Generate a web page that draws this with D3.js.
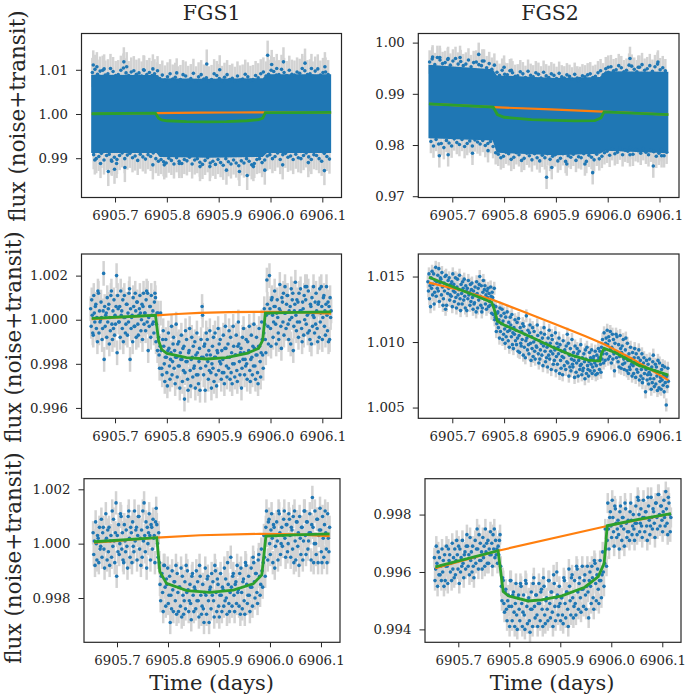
<!DOCTYPE html>
<html>
<head>
<meta charset="utf-8">
<script src="https://cdn.jsdelivr.net/npm/d3@7"></script>
<style>
  body { margin: 0; background: #fff; }
  text { font-family: "DejaVu Serif", serif; fill: #262626; }
</style>
</head>
<body>
<svg id="chart" width="685" height="697"></svg>
<script>
// time is days after 6905
const xTicks = [0.7, 0.8, 0.9, 1.0, 1.1];
const xTickLabels = ['6905.7', '6905.8', '6905.9', '6906.0', '6906.1'];

// model curves, [time, flux]
const trendFgs1 = [[.655,1.00003],[.70,1.00009],[.74,1.00015],[.78,1.0002],[.82,1.00026],[.863,1.00031],[.92,1.00034],[.98,1.00036],[1.05,1.00034],[1.117,1.00028]];
const modelFgs1 = [[.655,1.00006],[.778,1.0002],[.784,.99905],[.79,.99865],[.80,.99847],[.838,.99828],[.877,.99822],[.915,.99828],[.954,.99847],[.977,.9987],[.985,.99908],[.99,1.0003],[1.05,1.00033],[1.117,1.00036]];
const trendFgs2Top = [[.655,.98804],[.779,.98739],[.89,.98695],[.991,.98654],[1.117,.98595]];
const modelFgs2Top = [[.655,.98804],[.779,.98739],[.787,.98595],[.80,.98542],[.853,.98497],[.937,.98471],[.975,.98477],[.987,.98529],[.993,.98647],[1.117,.98595]];
const trendMid2 = [[.655,1.01454],[.718,1.01393],[.779,1.01321],[.834,1.01237],[.898,1.01138],[.956,1.01046],[.9945,1.00982],[1.046,1.00875],[1.117,1.00709]];
const modelMid2 = [[.655,1.01495],[.776,1.01304],[.781,1.0125],[.787,1.0116],[.80,1.0113],[.8145,1.01105],[.853,1.01036],[.892,1.00964],[.93,1.009],[.962,1.00862],[.985,1.00855],[.988,1.00913],[.993,1.00952],[1.014,1.0092],[1.059,1.00824],[1.117,1.00747]];
const trendBot1 = [[.655,1.00004],[.70,1.0001],[.778,1.00022],[.863,1.00031],[.98,1.00036],[1.05,1.00034],[1.117,1.00028]];
const modelBot1 = [[.655,1.00007],[.778,1.00022],[.784,.99897],[.797,.99854],[.837,.99827],[.882,.99821],[.928,.99829],[.967,.99852],[.984,.99885],[.992,1.00028],[1.05,1.00032],[1.117,1.00036]];
const trendBot2 = [[.655,.99613],[.778,.99674],[.994,.99761],[1.117,.99803]];
const modelBot2 = [[.655,.99618],[.778,.99674],[.788,.99532],[.798,.99517],[.837,.99499],[.863,.99503],[.903,.99517],[.948,.99547],[.9745,.99584],[.986,.9963],[.992,.99761],[1.053,.99783],[1.117,.99803]];

// top row is too dense to see single samples: solid core [time, low, high]
const coreFgs1 = [[.654,.9912,1.0089],[.78,.9912,1.0088],[.786,.9903,1.0081],[.88,.9901,1.008],[.985,.9903,1.0081],[.993,.9912,1.009],[1.117,.9912,1.009]];
const coreFgs2 = [[.654,.9813,.9957],[.778,.9809,.9948],[.786,.9785,.9936],[.90,.978,.9931],[.985,.9783,.9933],[.995,.9789,.9944],[1.117,.9784,.9943]];

// samples along the edge of the core, [time, flux, ...]
const edgeFgs1 = [
[.66,1.0094,.9908,1.0101,.9899],[.67,1.009,.9904,1.0097,.9911],[.68,1.0099,.9896,1.0088,.9906],[.69,1.0091,.9909,1.0103,.9893],[.70,1.0096,.9902,1.0087,.9897],
[.71,1.0089,.9906,1.0099,.9912],[.72,1.0104,.9899,1.0093,.9907],[.73,1.0087,.9911,1.0095,.9901],[.74,1.0098,.9905,1.009,.9895],[.75,1.0093,.9909,1.0086,.9903],
[.76,1.0099,.9898,1.0089,.9908],[.77,1.0094,.9904,1.0087,.9912],[.78,1.0091,.9899,1.0084,.9893],[.79,1.008,.9897,1.0088,.9892],[.80,1.0077,.9889,1.0084,.99],
[.81,1.0091,.9895,1.0079,.9887],[.82,1.0083,.9901,1.0075,.9893],[.83,1.0078,.9888,1.0089,.9897],[.84,1.0086,.9894,1.0076,.9902],[.85,1.008,.9887,1.0092,.9896],
[.86,1.0075,.9899,1.0084,.9891],[.87,1.0089,.9886,1.0079,.9895],[.88,1.0082,.9901,1.0075,.9889],[.89,1.0078,.9893,1.0091,.9886],[.90,1.0087,.9897,1.008,.989],
[.91,1.0076,.9884,1.0083,.9899],[.92,1.0089,.9892,1.0078,.9887],[.93,1.0081,.9896,1.0074,.9889],[.94,1.0086,.9883,1.0077,.9894],[.95,1.0079,.9889,1.009,.9899],
[.96,1.0084,.9893,1.0076,.9885],[.97,1.0078,.9888,1.0087,.9897],[.98,1.0082,.9899,1.0091,.989],[.99,1.0095,.9896,1.0086,.9905],[1.0,1.009,.9908,1.0099,.9899],
[1.01,1.0096,.9904,1.0088,.9912],[1.02,1.0089,.9897,1.0101,.9908],[1.03,1.0094,.9911,1.0087,.9902],[1.04,1.0099,.9905,1.009,.9897],[1.05,1.0088,.9909,1.0095,.9901],
[1.06,1.0092,.9899,1.0103,.9906],[1.07,1.0098,.9912,1.0089,.9903],[1.08,1.0091,.9897,1.0086,.9908],[1.09,1.0097,.9906,1.0102,.9899],[1.10,1.0088,.9893,1.0094,.9911],
[1.11,1.0095,.9904,1.0089,.9898]];
const edgeFgs2 = [
[.66,.9962,.9807,.9968,.9798],[.67,.9957,.9811,.9971,.9802],[.68,.9966,.9803,.9959,.9795],[.69,.9961,.9809,.9967,.9804],[.70,.9956,.9798,.9964,.9812],
[.71,.9969,.9805,.9958,.9801],[.72,.9963,.9811,.9955,.9797],[.73,.9958,.9803,.9966,.9808],[.74,.9953,.9798,.9961,.981],[.75,.9962,.9806,.9957,.9802],
[.76,.9955,.9809,.9964,.9799],[.77,.9951,.9803,.9959,.9807],[.78,.9948,.9797,.9956,.9785],[.79,.9942,.9782,.9936,.9775],[.80,.9946,.9778,.9938,.9786],
[.81,.9937,.9783,.9945,.9772],[.82,.9941,.9776,.9934,.9785],[.83,.9935,.9781,.9943,.977],[.84,.9939,.9774,.9932,.9784],[.85,.9944,.9779,.9936,.9771],
[.86,.9933,.9783,.9941,.9775],[.87,.9938,.9769,.9931,.978],[.88,.9942,.9775,.9935,.9783],[.89,.9932,.9772,.9939,.9778],[.90,.9936,.9781,.993,.9769],
[.91,.994,.9774,.9933,.9783],[.92,.9931,.9768,.9937,.9779],[.93,.9934,.9776,.9929,.9782],[.94,.9938,.977,.9931,.9777],[.95,.993,.9775,.9935,.9783],
[.96,.9933,.9768,.9937,.978],[.97,.9939,.9776,.9932,.9771],[.98,.9934,.9782,.9941,.9773],[.99,.9945,.9778,.9937,.9785],[1.0,.9949,.9788,.9942,.978],
[1.01,.9953,.9793,.9945,.9783],[1.02,.9947,.9786,.9955,.9794],[1.03,.9951,.9781,.9943,.979],[1.04,.9946,.9788,.9956,.9795],[1.05,.9954,.9782,.9948,.9791],
[1.06,.9943,.9789,.9952,.9784],[1.07,.9957,.9793,.9946,.9786],[1.08,.9949,.9781,.9955,.979],[1.09,.9944,.9787,.9953,.9778],[1.10,.9958,.9784,.9947,.9791],
[1.11,.9951,.9779,.9945,.9786]];

// samples that stand out further, [time, flux]
const strayFgs1 = [[.658,1.0111],[.665,1.0107],[.679,1.0102],[.717,1.0118],[.7225,1.0107],[.755,1.01],[.773,1.0102],[.782,1.0098],[.819,1.0093],[.877,1.0113],[.902,1.01],[.9945,1.0133],[1.0023,1.0112],[1.012,1.0103],[1.025,1.0118],[1.0666,1.0115],[1.079,1.0103],[1.105,1.0107],
[.661,.9896],[.672,.9888],[.687,.987],[.699,.9875],[.719,.9879],[.693,.9896],[.703,.9888],[.773,.9885],[.795,.9885],[.824,.9888],[.864,.9881],[.883,.9881],[.915,.9873],[.94,.987],[.955,.9861],[.967,.9881],[.989,.9873],[1.0235,.9885],[1.073,.989],[1.104,.9872]];
const strayFgs2 = [[.662,.9972],[.676,.9971],[.692,.9969],[.715,.9971],[.751,.9977],[.758,.9964],[.80,.9952],[.814,.9946],[.943,.9926],[1.001,.9952],[1.043,.9969],[1.059,.9952],[1.097,.9962],
[.675,.9779],[.692,.9781],[.739,.9784],[.769,.9789],[.882,.9737],[.892,.9756],[.921,.9763],[.956,.9763],[.971,.9746],[1.043,.9781],[1.088,.9759],[1.104,.9779]];

// samples in cadence order inside each 0.005 day step: [time, flux, flux, ...]
const samplesMid1 = [
[.655,1.0005,.9997,1.0009,1.0002,.9994],[.66,.9993,1.0011,1.0003,.9999,1.0006],[.665,1.0007,.9996,1.0001,.999,1.0013],[.67,1.0012,.9994,1.0004,.9999,1.0],[.675,1.0008,1.0001,.9991,.9996,1.0004],
[.68,1.0021,.9982,1.0006,.9997,1.0002],[.685,1.0003,.9992,1.001,.9999,1.0005],[.69,1.0007,.9989,1.0001,.9995,1.0011],[.695,1.0013,.9998,.9991,1.0004,.9996],[.70,1.0009,.9993,1.0002,.9998,1.0006],
[.705,1.002,.9985,1.0011,1.0005,.9999],[.71,.9999,1.0006,.9992,1.0013,1.0002],[.715,1.0004,.9996,1.0009,.999,1.0001],[.72,1.0011,1.0001,.9994,.9998,1.0007],[.725,1.0007,.9993,1.0003,.9999,1.0012],
[.73,1.0014,.9982,1.0005,.9996,1.0001],[.735,1.0002,.999,1.001,1.0006,.9997],[.74,.9997,1.0012,1.0004,.9992,1.0008],[.745,1.0008,.9998,.9993,1.0002,1.0005],[.75,1.0011,1.0003,.9995,1.0,1.0007],
[.755,.9991,1.0006,1.0012,.9998,1.0003],[.76,1.0003,.9995,1.0009,1.0013,.9999],[.765,1.0012,.9986,1.0001,.9997,1.0006],[.77,1.0006,.9992,1.0011,1.0002,.9998],[.775,1.0004,.9999,.9994,1.0008,1.0012],
[.78,1.001,.999,.9998,1.0003,.9986],[.785,1.0003,.9992,.9984,.9978,.9988],[.79,1.0003,.9986,.9978,.9975,.9991],[.795,.9995,.9988,.998,.9972,.9983],[.80,.9991,.9983,.9976,.997,.9986],
[.805,.9994,.9987,.9979,.9973,.9982],[.81,.9985,.9997,.9975,.9981,.9989],[.815,.9992,.9978,.9986,.9971,.9983],[.82,.9998,.9983,.9974,.9989,.9979],[.825,.999,.9979,.9969,.9985,.9982],
[.83,.9993,.9982,.9972,.9987,.9977],[.835,.9988,.9964,.9976,.9995,.9981],[.84,.9991,.9981,.9973,.9968,.9985],[.845,.9986,.9996,.9977,.997,.9982],[.85,.9992,.9983,.9974,.9988,.9978],
[.855,.9979,.999,.9969,.9984,.9975],[.86,.9994,.9985,.9975,.9971,.9981],[.865,.9987,.9968,.9978,.9991,.9983],[.87,1.0006,1.0002,.9983,.9975,.9988],[.875,.9989,.9968,.9979,.9994,.9984],
[.88,.9991,.9981,.9973,.9986,.9977],[.885,.9995,.9984,.9976,.9969,.998],[.89,.9988,.9978,.9992,.9972,.9983],[.895,.9994,.9983,.9975,.997,.9986],[.90,.9985,.9996,.9977,.9989,.9981],
[.905,.9991,.998,.9973,.9986,.9976],[.91,.9982,.9993,.9976,.9971,.9987],[.915,.9997,.9987,.9979,.9974,.9983],[.92,.9989,.9978,.9995,.9983,.9973],[.925,.9992,.9976,.9985,.9971,.998],
[.93,.9997,.9988,.998,.9974,.9984],[.935,.9984,.9993,.9977,.9972,.9988],[.94,.9999,.9989,.9981,.9975,.9985],[.945,.9987,.9969,.9978,.9992,.9982],[.95,.9996,.9985,.9975,.9982,.9979],
[.955,.9991,.998,.9973,.999,.9985],[.96,.9986,.9997,.9977,.9972,.9982],[.965,.9993,.9983,.9975,.9988,.9979],[.97,.9998,.9987,.9979,.9973,.9984],[.975,.9992,.9984,.9976,.9971,.9988],
[.98,.9996,.9988,.9981,.9974,.9985],[.985,.9999,.9991,.9984,.9978,.9994],[.99,1.0005,.9998,.9991,.9985,1.0002],[.995,1.0018,1.0007,.9997,.9989,1.0003],[1.0,1.002,1.0005,.9996,.9988,1.0009],
[1.005,1.001,1.0002,.9992,.9999,1.0006],[1.01,1.0013,1.0006,.9998,.9989,1.0003],[1.015,1.0009,1.0001,.9994,.9991,1.0005],[1.02,1.0016,1.0004,.9997,.9987,1.001],[1.025,1.0008,.9999,1.0012,.9993,1.0003],
[1.03,1.0015,1.0003,.9996,1.0007,1.0011],[1.035,1.0011,.9998,.9991,1.0004,1.0],[1.04,1.0006,.9989,1.0014,1.0001,1.0009],[1.045,1.0012,.9986,.9997,1.0004,1.0007],[1.05,1.0017,1.0002,.9995,1.0009,.9999],
[1.055,1.0008,.9992,1.0012,.9999,1.0004],[1.06,1.0014,1.0004,.9996,.999,1.0008],[1.065,1.0005,.9993,1.0011,1.0,1.0015],[1.07,1.0009,.9998,1.0015,1.0002,.9994],[1.075,1.0013,1.0003,.9995,.9991,1.0007],
[1.08,1.0006,.9989,1.001,.9997,1.0002],[1.085,1.0015,1.0001,.9994,1.0008,.9998],[1.09,1.0012,1.0004,.9996,.999,1.0007],[1.095,1.0008,.9992,1.0014,.9999,1.0003],[1.10,1.0015,1.0006,.9991,1.0001,1.001],
[1.105,1.0011,.9997,1.0004,.9993,1.0007],[1.11,1.0015,1.0002,.9995,1.0008,.999],[1.115,1.0006,.9991,1.001,1.0001,1.0004]];

const samplesMid2 = [
[.655,1.0146,1.0139,1.0152,1.0133,1.0143],[.66,1.0127,1.0149,1.0141,1.0154,1.0136],[.665,1.0144,1.0152,1.0129,1.0138,1.0147],[.67,1.0157,1.0135,1.0146,1.0141,1.0151],[.675,1.0139,1.0156,1.0131,1.0145,1.0149],
[.68,1.0148,1.0136,1.0153,1.0142,1.0128],[.685,1.0133,1.0145,1.0139,1.015,1.0125],[.69,1.0151,1.0128,1.0143,1.0137,1.0147],[.695,1.0141,1.0149,1.0132,1.0136,1.0144],[.70,1.0135,1.0146,1.0127,1.0152,1.0139],
[.705,1.0144,1.0131,1.0138,1.0149,1.0134],[.71,1.0126,1.0142,1.0148,1.0136,1.0129],[.715,1.014,1.0151,1.0133,1.0124,1.0144],[.72,1.0137,1.0129,1.0146,1.0141,1.0132],[.725,1.0148,1.0135,1.0126,1.0143,1.0139],
[.73,1.0124,1.0141,1.0133,1.0147,1.0136],[.735,1.0138,1.0128,1.0144,1.0131,1.014],[.74,1.0145,1.0134,1.0125,1.0139,1.0129],[.745,1.013,1.0142,1.0136,1.0123,1.0146],[.75,1.0137,1.0126,1.0141,1.0132,1.0144],
[.755,1.015,1.0135,1.0128,1.0143,1.0123],[.76,1.0126,1.0138,1.0147,1.0133,1.014],[.765,1.0143,1.0129,1.0136,1.0125,1.0139],[.77,1.0134,1.0141,1.0127,1.0137,1.0131],[.775,1.0128,1.0142,1.0135,1.0122,1.0138],
[.78,1.0134,1.0121,1.0128,1.0141,1.0117],[.785,1.0119,1.0127,1.0108,1.0114,1.0122],[.79,1.0123,1.0111,1.0117,1.0103,1.0126],[.795,1.0108,1.012,1.0114,1.0125,1.0102],[.80,1.0116,1.0106,1.0122,1.011,1.0099],
[.805,1.0119,1.0104,1.0112,1.0123,1.0108],[.81,1.0101,1.0115,1.0096,1.0109,1.0119],[.815,1.0113,1.0104,1.0121,1.0098,1.0107],[.82,1.0095,1.0111,1.0106,1.0117,1.0101],[.825,1.0109,1.0098,1.0115,1.0103,1.0093],
[.83,1.0118,1.0105,1.0092,1.0111,1.0099],[.835,1.0097,1.0108,1.0102,1.0114,1.009],[.84,1.0112,1.0096,1.0106,1.0088,1.0101],[.845,1.012,1.0103,1.0094,1.0109,1.0098],[.85,1.0091,1.0107,1.0113,1.0099,1.0086],
[.855,1.0104,1.0095,1.0111,1.0089,1.01],[.86,1.0108,1.0093,1.0087,1.0102,1.0097],[.865,1.0096,1.0113,1.0105,1.0091,1.0084],[.87,1.0101,1.0087,1.0094,1.0107,1.0099],[.875,1.009,1.0103,1.0082,1.0097,1.0111],
[.88,1.0106,1.0093,1.0085,1.0099,1.0088],[.885,1.0096,1.0081,1.0103,1.009,1.0109],[.89,1.0087,1.0099,1.0093,1.0079,1.0105],[.895,1.0102,1.0091,1.0083,1.0096,1.0086],[.90,1.0094,1.0107,1.0078,1.0089,1.0099],
[.905,1.0083,1.0096,1.0091,1.0103,1.0076],[.91,1.0098,1.0086,1.008,1.0093,1.0089],[.915,1.0075,1.0101,1.0088,1.0082,1.0094],[.92,1.0092,1.0079,1.0097,1.0085,1.0106],[.925,1.0084,1.0099,1.0074,1.009,1.0081],
[.93,1.0095,1.0078,1.0087,1.0102,1.0083],[.935,1.0081,1.0092,1.0086,1.0073,1.0097],[.94,1.0089,1.0077,1.0084,1.0095,1.0091],[.945,1.0074,1.0086,1.0093,1.0079,1.0082],[.95,1.0098,1.0083,1.0075,1.0088,1.0078],
[.955,1.008,1.0091,1.0085,1.0072,1.0094],[.96,1.0087,1.0076,1.0096,1.0082,1.0079],[.965,1.0074,1.0085,1.0092,1.0078,1.0088],[.97,1.0083,1.0094,1.0076,1.0081,1.0087],[.975,1.0089,1.0078,1.0084,1.0093,1.0075],
[.98,1.0082,1.009,1.0076,1.0086,1.0095],[.985,1.0088,1.0079,1.0093,1.0083,1.0077],[.99,1.0096,1.0087,1.0102,1.0091,1.0084],[.995,1.0107,1.0094,1.0086,1.0099,1.0103],[1.0,1.0091,1.0109,1.0098,1.0087,1.0104],
[1.005,1.0101,1.0089,1.0108,1.0095,1.0084],[1.01,1.0096,1.0106,1.0087,1.0102,1.0091],[1.015,1.0078,1.0099,1.0093,1.0106,1.0088],[1.02,1.0104,1.0092,1.0085,1.0098,1.0081],[1.025,1.0089,1.0105,1.0095,1.008,1.0092],
[1.03,1.0097,1.0083,1.0102,1.0087,1.0079],[1.035,1.0084,1.0094,1.0103,1.0089,1.0078],[1.04,1.0099,1.0086,1.0076,1.0091,1.0081],[1.045,1.0079,1.0096,1.0087,1.0083,1.0074],[1.05,1.0092,1.0082,1.0076,1.0088,1.0095],
[1.055,1.0085,1.0073,1.0091,1.0079,1.0083],[1.06,1.0077,1.0088,1.0094,1.0071,1.0082],[1.065,1.0086,1.0074,1.0079,1.0091,1.0069],[1.07,1.0072,1.0084,1.0088,1.0076,1.0081],[1.075,1.0062,1.0079,1.0086,1.0071,1.0075],
[1.08,1.0083,1.0068,1.0077,1.0087,1.0072],[1.085,1.0075,1.0064,1.0081,1.0069,1.0085],[1.09,1.009,1.0072,1.0066,1.0078,1.0083],[1.095,1.0068,1.0081,1.0074,1.0063,1.0086],[1.10,1.0077,1.0065,1.0084,1.007,1.0073],
[1.105,1.0064,1.0079,1.0071,1.0082,1.0067],[1.11,1.0075,1.0062,1.0081,1.0069,1.0073],[1.115,1.0052,1.0074,1.0066,1.008,1.007]];

const samplesBot1 = [
[.655,1.0004,.9996,1.0001,.9992],[.66,1.0008,1.0,.9994,1.0003],[.665,1.0002,.9993,1.0006,.9998],[.67,.9999,1.0009,.9995,1.0004],[.675,1.0006,.9998,.9991,1.0001],
[.68,1.0011,1.0002,.9994,1.0005],[.685,.9997,1.0006,.9992,1.0001],[.69,1.0003,.9995,1.0012,.9999],[.695,1.0009,1.0001,.9993,1.0004],[.70,1.0015,.9988,1.0003,.9997],
[.705,1.0007,.9996,1.0,1.0011],[.71,1.001,.9998,1.0004,.9994],[.715,.9993,1.0007,1.0001,.9997],[.72,1.0005,.9999,.9991,1.001],[.725,1.0012,1.0002,.9995,1.0006],
[.73,1.0004,.9993,1.0008,.9999],[.735,.9997,1.0012,1.0001,1.0005],[.74,1.0006,.9994,1.0003,1.001],[.745,1.001,.9998,1.0002,.9992],[.75,1.0005,.9995,1.0012,1.0001],
[.755,1.0015,1.0003,.9997,1.0008],[.76,.9991,1.0006,1.0,1.0004],[.765,1.0011,1.0003,.9994,1.0007],[.77,1.0006,.9998,1.0009,1.0002],[.775,1.0003,.9993,1.0008,1.0013],
[.78,1.0007,1.0,.9995,1.0004],[.785,.9993,.9985,.9979,.9988],[.79,.9989,.9982,.9975,.9992],[.795,.9992,.9984,.9977,.9987],[.80,.9985,.9991,.9978,.9981],
[.805,.9988,.9971,.9981,.9976],[.81,.999,.9983,.9975,.9986],[.815,.9986,.9979,.9992,.9974],[.82,.9989,.9982,.9975,.9984],[.825,.9984,.9977,.9991,.9973],
[.83,.9988,.9981,.9974,.9979],[.835,.9986,.9976,.9992,.9982],[.84,.999,.9983,.9975,.9979],[.845,.9985,.9978,.9972,.9988],[.85,.9989,.9981,.9975,.9984],
[.855,.9983,.9976,.999,.9979],[.86,.9986,.9979,.9973,.9992],[.865,.9988,.9981,.9974,.9977],[.87,.9985,.9976,.9971,.9982],[.875,.9991,.9981,.9974,.9987],
[.88,.9988,.9979,.9971,.9983],[.885,.9984,.9976,.9989,.9981],[.89,.9986,.9979,.9973,.9992],[.895,.999,.9982,.9975,.9987],[.90,.9985,.9977,.9973,.9981],
[.905,.9989,.9981,.9975,.9984],[.91,.9983,.9977,.9991,.9979],[.915,.9987,.998,.9974,.9993],[.92,.9985,.9978,.9975,.9982],[.925,.9995,.9984,.9977,.9988],
[.93,.9989,.9981,.9975,.9985],[.935,.9986,.9978,.9992,.9982],[.94,.9983,.9977,.9989,.9974],[.945,.9991,.9982,.9976,.9986],[.95,.9987,.9979,.9974,.9993],
[.955,.9992,.9985,.9978,.9981],[.96,.9988,.9981,.9975,.9984],[.965,.9991,.9984,.9977,.9995],[.97,.9993,.9986,.998,.9989],[.975,.9989,.9982,.9978,.9994],
[.98,.9996,.9988,.9981,.9985],[.985,.9998,.999,.9984,.9993],[.99,1.0003,.9995,.9988,1.0006],[.995,1.0012,1.0003,.9994,1.0008],[1.0,1.0009,1.0,.9996,1.0005],
[1.005,1.0011,1.0002,.9993,1.0007],[1.01,1.0006,.9991,.9999,1.0003],[1.015,1.0008,1.0001,.9994,1.0012],[1.02,1.0011,1.0004,.9996,1.0],[1.025,1.0006,.9999,1.0003,1.0009],
[1.03,1.0012,1.0002,.9995,1.0007],[1.035,1.0007,.9997,1.0,1.0011],[1.04,1.0009,1.0003,.9995,1.0006],[1.045,1.0005,.9998,1.001,.9993],[1.05,1.0012,1.0001,.9994,1.0008],
[1.055,1.0008,.9999,1.0004,.9992],[1.06,1.001,1.0002,.9996,1.0006],[1.065,1.0006,.9994,1.0001,1.0012],[1.07,1.0012,1.0003,.9996,1.0008],[1.075,1.0008,.9998,1.0001,1.0004],
[1.08,1.0011,1.0004,.9994,1.0007],[1.085,1.0017,1.0006,.9993,1.0],[1.09,1.0012,1.0,.9996,1.0009],[1.095,1.0009,.9993,1.0003,1.0005],[1.10,1.0013,1.0005,.9997,.9993],
[1.105,1.001,1.0002,.9995,1.0007],[1.11,1.0012,1.0004,.9998,.9993],[1.115,1.0011,1.0002,.9997,1.0006]];

const samplesBot2 = [
[.655,.9965,.9957,.9961,.9969],[.66,.9963,.9955,.9967,.9959],[.665,.9965,.9959,.9962,.9957],[.67,.9968,.996,.9964,.9955],[.675,.9966,.9957,.9962,.9969],
[.68,.9962,.9956,.9968,.9964],[.685,.9966,.996,.9963,.9957],[.69,.997,.9961,.9965,.9958],[.695,.9968,.9959,.9964,.9971],[.70,.9966,.9961,.9969,.9956],
[.705,.9968,.996,.9965,.9962],[.71,.9971,.9963,.9958,.9966],[.715,.9967,.9961,.9969,.9973],[.72,.9969,.9962,.9966,.9959],[.725,.9972,.9964,.9967,.996],
[.73,.9969,.9962,.9958,.9965],[.735,.9971,.9963,.9968,.9975],[.74,.9968,.9961,.9973,.9964],[.745,.997,.9964,.9967,.9961],[.75,.9972,.9965,.9969,.9962],
[.755,.9975,.9967,.997,.9963],[.76,.9971,.9963,.9968,.9966],[.765,.9974,.9966,.997,.9962],[.77,.9973,.9968,.9975,.9965],[.775,.9971,.9966,.9968,.9963],
[.78,.9969,.9966,.9971,.9973],[.785,.9962,.9955,.995,.9958],[.79,.9957,.9949,.9946,.9953],[.795,.9954,.9947,.9943,.995],[.80,.9952,.9948,.9941,.9957],
[.805,.9957,.9948,.9943,.9952],[.81,.9953,.9946,.9941,.9949],[.815,.9956,.9945,.994,.9951],[.82,.9952,.9947,.9943,.9956],[.825,.9955,.9949,.9941,.9946],
[.83,.9952,.9945,.994,.9957],[.835,.9956,.9948,.9942,.995],[.84,.9951,.9943,.9939,.9947],[.845,.9953,.9947,.9941,.9956],[.85,.9958,.9948,.9944,.9952],
[.855,.9952,.9945,.9941,.9949],[.86,.9956,.9949,.9943,.9953],[.865,.9954,.9947,.9941,.9958],[.87,.9955,.9945,.9942,.995],[.875,.9951,.9947,.9943,.9957],
[.88,.9957,.9949,.9944,.9953],[.885,.9953,.9946,.9941,.9959],[.89,.9956,.9948,.9943,.9951],[.895,.996,.9952,.9945,.9948],[.90,.9955,.9949,.9943,.9951],
[.905,.9951,.9945,.9942,.9958],[.91,.9957,.9949,.9944,.9953],[.915,.9953,.9947,.9941,.9961],[.92,.9955,.995,.9945,.9958],[.925,.9959,.9951,.9944,.9948],
[.93,.9957,.9949,.9945,.9962],[.935,.9961,.9953,.9947,.9956],[.94,.9958,.9951,.9946,.9954],[.945,.9962,.9954,.9948,.9957],[.95,.9959,.9952,.9947,.9955],
[.955,.9962,.9953,.9944,.9957],[.96,.996,.9955,.9949,.9962],[.965,.9958,.9951,.9947,.9964],[.97,.9963,.9956,.995,.9959],[.975,.9961,.9954,.9949,.9957],
[.98,.9964,.9957,.9951,.9959],[.985,.9967,.996,.9955,.9963],[.99,.9975,.9968,.9962,.9971],[.995,.9984,.9975,.9968,.9979],[1.0,.9981,.9976,.9972,.9985],
[1.005,.9979,.9974,.9969,.9983],[1.01,.9982,.9977,.9972,.9975],[1.015,.9978,.9973,.9968,.9981],[1.02,.9983,.9976,.9971,.9979],[1.025,.9979,.9975,.9969,.9984],
[1.03,.9982,.9977,.9972,.9974],[1.035,.9978,.9974,.9971,.9981],[1.04,.9984,.9978,.9973,.9976],[1.045,.998,.9975,.9971,.9977],[1.05,.9983,.9977,.9973,.9986],
[1.055,.9985,.998,.9974,.9977],[1.06,.9982,.9976,.9972,.9979],[1.065,.9985,.9979,.9974,.9981],[1.07,.9981,.9976,.9971,.9986],[1.075,.9983,.9978,.9973,.9976],
[1.08,.9986,.9979,.9975,.9982],[1.085,.9981,.9977,.9972,.9984],[1.09,.9984,.9979,.9975,.9987],[1.095,.9987,.998,.9976,.9983],[1.10,.9983,.9978,.9974,.9981],
[1.105,.9985,.9979,.9976,.9988],[1.11,.9982,.9977,.9973,.9986],[1.115,.9984,.998,.9974,.9979]];

const panels = [
  {left: 81.5, right: 341.5, top: 33.5, bottom: 197.5, xDom: [.6353, 1.137], yDom: [.98111, 1.01821], yTicks: [.99, 1, 1.01], yLabels: ['0.99', '1.00', '1.01'], err: .0033, core: coreFgs1, samples: edgeFgs1, step: .01, stray: strayFgs1, trend: trendFgs1, model: modelFgs1},
  {left: 418.3, right: 679, top: 33.5, bottom: 197.5, xDom: [.6344, 1.1376], yDom: [.96975, 1.00178], yTicks: [.97, .98, .99, 1], yLabels: ['0.97', '0.98', '0.99', '1.00'], err: .0023, core: coreFgs2, samples: edgeFgs2, step: .01, stray: strayFgs2, trend: trendFgs2Top, model: modelFgs2Top},
  {left: 81.5, right: 341.5, top: 254, bottom: 418.3, xDom: [.6353, 1.137], yDom: [.99553, 1.00298], yTicks: [.996, .998, 1, 1.002], yLabels: ['0.996', '0.998', '1.000', '1.002'], err: .00056, samples: samplesMid1, step: .005, stray: [], trend: trendFgs1, model: modelFgs1},
  {left: 418.3, right: 679, top: 254, bottom: 418.3, xDom: [.6344, 1.1376], yDom: [1.00418, 1.01672], yTicks: [1.005, 1.01, 1.015], yLabels: ['1.005', '1.010', '1.015'], err: .0005, samples: samplesMid2, step: .005, stray: [], trend: trendMid2, model: modelMid2},
  {left: 84, right: 340, top: 478.7, bottom: 642.3, xDom: [.6353, 1.1373], yDom: [.99637, 1.00239], yTicks: [.998, 1, 1.002], yLabels: ['0.998', '1.000', '1.002'], err: .00043, samples: samplesBot1, step: .005, stray: [], trend: trendBot1, model: modelBot1},
  {left: 425, right: 681, top: 478.7, bottom: 642.3, xDom: [.6347, 1.1367], yDom: [.99355, .99925], yTicks: [.994, .996, .998], yLabels: ['0.994', '0.996', '0.998'], err: .00035, samples: samplesBot2, step: .005, stray: [], trend: trendBot2, model: modelBot2}
];

const svg = d3.select('#chart');

panels.forEach(p => {
  const x = d3.scaleLinear().domain(p.xDom).range([p.left, p.right]);
  const y = d3.scaleLinear().domain(p.yDom).range([p.bottom, p.top]);
  const g = svg.append('g');

  // spread the samples of one step over that step, they are evenly sampled in time
  const points = p.samples.flatMap(r => {
    const n = r.length - 1;
    return r.slice(1).map((f, k) => [r[0] + (k - (n - 1) / 2) * p.step / n, f]);
  }).concat(p.stray);

  g.selectAll('.bar').data(points).join('line')
    .attr('x1', d => x(d[0])).attr('x2', d => x(d[0]))
    .attr('y1', d => y(d[1] - p.err)).attr('y2', d => y(d[1] + p.err))
    .attr('stroke', '#d3d3d3').attr('stroke-width', 2.5);

  if (p.core) {
    const area = d3.area().x(d => x(d[0])).y0(d => y(d[1])).y1(d => y(d[2]));
    g.append('path').datum(p.core).attr('d', area).attr('fill', '#1f77b4');
  }

  g.selectAll('circle').data(points).join('circle')
    .attr('cx', d => x(d[0])).attr('cy', d => y(d[1])).attr('r', 1.8)
    .attr('fill', '#1f77b4');

  const line = d3.line().x(d => x(d[0])).y(d => y(d[1]));
  g.append('path').datum(p.trend).attr('d', line).attr('fill', 'none').attr('stroke', '#ff7f0e').attr('stroke-width', 2.2);
  g.append('path').datum(p.model).attr('d', line).attr('fill', 'none').attr('stroke', '#2ca02c').attr('stroke-width', 2.8);

  const xAxis = d3.axisBottom(x).tickValues(xTicks).tickFormat((d, i) => xTickLabels[i]).tickSize(5).tickPadding(8);
  const yAxis = d3.axisLeft(y).tickValues(p.yTicks).tickFormat((d, i) => p.yLabels[i]).tickSize(5.5).tickPadding(8);
  [g.append('g').attr('transform', `translate(0,${p.bottom})`).call(xAxis),
   g.append('g').attr('transform', `translate(${p.left},0)`).call(yAxis)].forEach(a => {
    a.select('.domain').remove();
    a.selectAll('line').attr('stroke', '#262626').attr('stroke-width', 1);
    a.selectAll('text').attr('font-size', 13.3).attr('font-family', '"DejaVu Serif"').attr('fill', '#262626');
  });

  g.append('rect').attr('x', p.left).attr('y', p.top)
    .attr('width', p.right - p.left).attr('height', p.bottom - p.top)
    .attr('fill', 'none').attr('stroke', '#262626').attr('stroke-width', 1.2);
});

const titles = [['FGS1', 211.7], ['FGS2', 550]];
svg.selectAll('.title').data(titles).join('text')
  .attr('x', d => d[1]).attr('y', 19.5).attr('text-anchor', 'middle').attr('font-size', 20.5).text(d => d[0]);

const xNames = [['Time (days)', 211.7], ['Time (days)', 552]];
svg.selectAll('.xname').data(xNames).join('text')
  .attr('x', d => d[1]).attr('y', 690).attr('text-anchor', 'middle').attr('font-size', 21).text(d => d[0]);

const yNames = [[25, 116], [20.5, 337], [20.5, 558]];
svg.selectAll('.yname').data(yNames).join('text')
  .attr('transform', d => `translate(${d[0]},${d[1]}) rotate(-90)`)
  .attr('text-anchor', 'middle').attr('font-size', 21.5).text('flux (noise+transit)');
</script>
</body>
</html>
